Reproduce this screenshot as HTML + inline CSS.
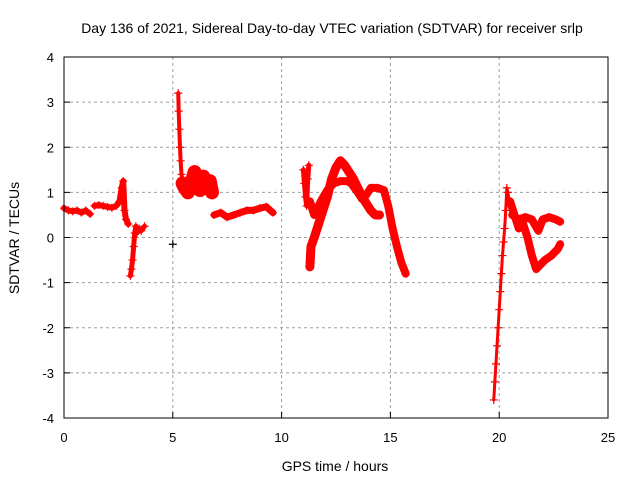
<!DOCTYPE html>
<html><head><meta charset="utf-8"><style>
body{margin:0;background:#fff}
svg{display:block;font-family:"Liberation Sans",sans-serif}
</style></head><body>
<svg id="chart" width="640" height="480" viewBox="0 0 640 480">
<rect width="640" height="480" fill="#fff"/>
<text x="332" y="33" font-size="14" text-anchor="middle">Day 136 of 2021, Sidereal Day-to-day VTEC variation (SDTVAR) for receiver srlp</text>
<text x="335" y="471" font-size="14" text-anchor="middle">GPS time / hours</text>
<text transform="translate(19,238) rotate(-90)" font-size="14" text-anchor="middle">SDTVAR / TECUs</text>
<g id="grid"></g><g id="series"></g>
<rect x="64" y="57" width="544" height="361" fill="none" stroke="#000" stroke-width="1"/>
<g id="ticks"></g>
</svg>
<script>
const xTicks=[0,5,10,15,20,25];
const yTicks=[-4,-3,-2,-1,0,1,2,3,4];
const segAh=[0,0.2,0.4,0.6,0.8,1.0,1.2];
const segAv=[0.65,0.6,0.58,0.6,0.55,0.6,0.52];
const segBh=[1.4,1.6,1.8,2.0,2.2,2.4,2.55,2.65,2.72,2.78,2.85,2.95];
const segBv=[0.7,0.72,0.7,0.68,0.66,0.7,0.8,1.1,1.25,0.6,0.4,0.3];
const segCh=[3.05,3.1,3.15,3.2,3.25,3.3,3.35,3.45,3.55,3.7];
const segCv=[-0.85,-0.7,-0.5,-0.2,0.1,0.25,0.1,0.2,0.15,0.25];
const segDh=[5.25,5.27,5.3,5.33,5.36,5.4,5.45];
const segDv=[3.2,2.8,2.4,2.0,1.7,1.4,1.2];
const segD2h=[5.45,5.55,5.7,5.85,6.0,6.1,6.25,6.4,6.55,6.7,6.8];
const segD2v=[1.2,1.1,1.0,1.2,1.45,1.3,1.05,1.35,1.15,1.25,1.0];
const segEh=[6.9,7.2,7.5,7.8,8.1,8.4,8.7,9.0,9.3,9.6];
const segEv=[0.5,0.55,0.45,0.5,0.55,0.6,0.6,0.65,0.68,0.55];
const segFh=[11.0,11.05,11.1,11.15,11.2,11.25];
const segFv=[1.5,1.2,0.9,0.7,1.3,1.6];
const segGh=[11.3,11.35,11.5,11.7,11.9,12.1,12.3,12.5,12.7,12.9,13.1,13.3,13.5,13.7,13.9,14.1,14.3,14.5];
const segGv=[-0.65,-0.2,0.0,0.3,0.6,0.9,1.3,1.55,1.7,1.6,1.45,1.3,1.1,0.9,0.75,0.6,0.5,0.5];
const segHh=[11.3,11.5,11.8,12.1,12.4,12.7,13.0,13.2,13.5,13.7,13.9,14.1,14.4,14.7,14.9,15.1,15.3,15.5,15.7];
const segHv=[0.8,0.5,0.8,1.05,1.2,1.25,1.25,1.2,1.0,0.85,0.95,1.1,1.1,1.05,0.7,0.2,-0.2,-0.55,-0.8];
const segIh=[19.75,19.8,19.85,19.9,19.95,20.0,20.05,20.1,20.15,20.2,20.25,20.3,20.35,20.4,20.5,20.6];
const segIv=[-3.6,-3.2,-2.8,-2.4,-2.0,-1.6,-1.2,-0.8,-0.4,-0.1,0.2,0.6,1.1,1.0,0.7,0.5];
const segJh=[20.6,20.9,21.2,21.5,21.8,22.0,22.3,22.6,22.8];
const segJv=[0.5,0.4,0.45,0.4,0.15,0.4,0.45,0.4,0.35];
const segKh=[20.5,20.7,20.9,21.1,21.3,21.5,21.7,21.9,22.1,22.4,22.7,22.8];
const segKv=[0.8,0.5,0.2,0.3,0.0,-0.4,-0.7,-0.6,-0.5,-0.4,-0.25,-0.15];
const outH=[5.0];const outV=[-0.15];
const X=h=>64+h*544/25, Y=v=>237.5-v*361/8;
const NS="http://www.w3.org/2000/svg";
function mk(tag,attrs,parent){const e=document.createElementNS(NS,tag);for(const k in attrs)e.setAttribute(k,attrs[k]);parent.appendChild(e);return e;}
const grid=document.getElementById('grid'),ticks=document.getElementById('ticks'),ser=document.getElementById('series');
xTicks.forEach(t=>{
 if(t>0&&t<25){const g=mk('line',{x1:X(t),x2:X(t),y1:57,y2:418,stroke:'#a0a0a0','stroke-dasharray':'3,3'},grid);
 
 }
 const tk=mk('line',{x1:X(t),x2:X(t),y1:418,y2:412,stroke:'#000'},ticks);
 
 
 const l=mk('text',{x:X(t),y:442,'font-size':13,'text-anchor':'middle'},ticks);l.textContent=t;
 
 
});
yTicks.forEach(t=>{
 if(t>-4&&t<4){const g=mk('line',{x1:64,x2:608,y1:Y(t),y2:Y(t),stroke:'#a0a0a0','stroke-dasharray':'3,3'},grid);
 
 }
 const tk=mk('line',{x1:64,x2:70,y1:Y(t),y2:Y(t),stroke:'#000'},ticks);
 
 
 const tk2=mk('line',{x1:602,x2:608,y1:Y(t),y2:Y(t),stroke:'#000'},ticks);
 
 
 const l=mk('text',{x:54,y:Y(t)+5,'font-size':13,'text-anchor':'end'},ticks);l.textContent=t;
 
 
});
const segs=[[segAh,segAv,6],[segBh,segBv,6],[segCh,segCv,5],[segDh,segDv,4],[segD2h,segD2v,14],[segEh,segEv,7],[segFh,segFv,5],[segGh,segGv,9],[segHh,segHv,8],[segIh,segIv,3],[segJh,segJv,8],[segKh,segKv,8],[outH,outV,0]];
segs.forEach(([hs,vs,w],si)=>{
 if(hs.length>1){const p=mk('polyline',{points:hs.map((h,i)=>X(h)+','+Y(vs[i])).join(' '),fill:'none',stroke:'#f00','stroke-width':w,'stroke-linejoin':'round','stroke-linecap':'round'},ser);
 
 }
 hs.forEach((h,i)=>{
  const x=X(h),y=Y(vs[i]);
  const m=mk('path',{d:`M${x-4},${y}H${x+4}M${x},${y-4}V${y+4}`,stroke:si===12?'#000':'#f00','stroke-width':1.2},ser);
  
  
 });
});
</script>
</body></html>
